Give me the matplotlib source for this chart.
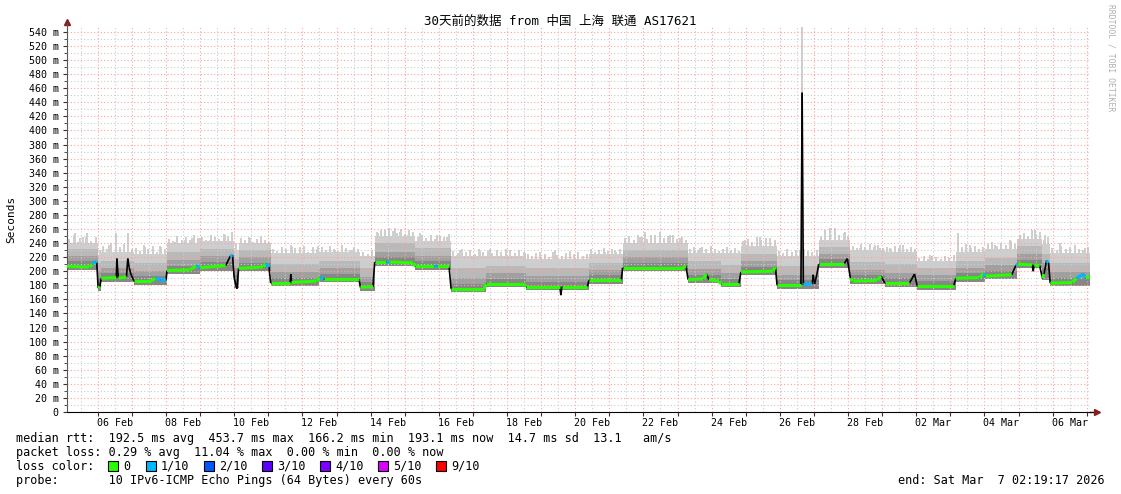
"""SmokePing style 30 day latency graph (median rtt + smoke) to out.png."""
import matplotlib
matplotlib.use("Agg")
import matplotlib.pyplot as plt
import matplotlib.dates as mdates
from matplotlib.collections import LineCollection
from matplotlib.patches import Rectangle
from matplotlib.ticker import MultipleLocator, FixedLocator, FuncFormatter
from datetime import datetime
import numpy as np

W, H = 1121, 494
MONO = ["DejaVu Sans Mono", "Noto Sans CJK SC"]
BASE = mdates.date2num(datetime(2026, 2, 5))
T_START, T_END = 0.0966, 30.0966      # days after 05 Feb 00:00
Y_TOP = 547

# median rtt: time (days after 05 Feb 00:00), value (ms), loss (x/10)
med_t = [0.097, 0.75, 0.85, 0.92, 0.97, 1.01, 1.06, 1.10, 1.54, 1.56, 1.60, 1.84, 1.88, 1.92,
         1.97, 2.06, 2.55, 2.70, 2.85, 3.00, 3.03, 3.70, 3.90, 4.00, 4.75, 4.88, 4.95, 5.00,
         5.08, 5.13, 5.85, 5.93, 6.02, 6.07, 6.64, 6.66, 6.68, 7.42, 7.52, 7.62, 8.66, 8.70,
         9.07, 9.12, 9.45, 9.55, 10.25, 10.31, 10.85, 10.95, 11.30, 11.36, 12.33, 12.37,
         13.50, 13.55, 14.55, 14.58, 14.61, 15.36, 15.40, 16.35, 16.39, 18.15, 18.25, 18.31,
         18.75, 18.85, 18.92, 19.22, 19.27, 19.80, 19.86, 20.80, 20.87, 20.92, 21.62, 21.655,
         21.69, 21.95, 21.98, 22.02, 22.09, 22.14, 22.88, 22.98, 23.07, 23.15, 23.85, 23.97,
         24.08, 24.80, 24.95, 25.03, 26.10, 26.16, 26.85, 26.98, 27.03, 27.80, 27.92, 27.97,
         28.40, 28.43, 28.46, 28.62, 28.70, 28.75, 28.82, 28.88, 28.93, 29.58, 29.70, 29.90,
         29.97, 30.097]
med_v = [207, 206, 210, 214, 212, 176, 178, 190, 191, 218, 190, 192, 218, 205,
         196, 186, 186, 190, 188, 187, 201, 202, 208, 205, 208, 221, 223, 190,
         175, 204, 206, 211, 206, 183, 183, 196, 184, 186, 191, 189, 189, 177,
         178, 213, 213, 213, 212, 207, 207, 207, 207, 175, 175, 182,
         182, 178, 178, 166, 178, 178, 187, 187, 205, 205, 207, 188,
         189, 196, 188, 186, 182, 182, 199, 200, 206, 180, 180, 453.7,
         181, 182, 195, 182, 196, 210, 210, 218, 190, 186, 187, 193,
         183, 183, 196, 179, 179, 190, 191, 197, 193, 195, 208, 210,
         209, 200, 209, 208, 190, 196, 215, 212, 183, 184, 190, 196,
         190, 193]
med_loss = [0, 0, 1, 1, 1, 0, 0, 0, 0, 0, 0, 0, 0, 1,
            0, 0, 0, 1, 1, 0, 0, 0, 1, 0, 0, 1, 1, 0,
            0, 0, 0, 1, 0, 0, 0, 0, 0, 0, 1, 0, 0, 0,
            0, 0, 1, 0, 0, 0, 1, 0, 0, 0, 0, 0,
            0, 0, 0, 0, 0, 0, 0, 0, 0, 0, 1, 0,
            0, 1, 0, 0, 0, 0, 0, 0, 1, 0, 1, 0,
            1, 0, 0, 0, 0, 0, 0, 1, 0, 0, 0, 1,
            0, 0, 1, 0, 0, 0, 0, 1, 0, 0, 1, 0,
            0, 0, 0, 0, 0, 0, 1, 0, 0, 0, 1, 1,
            0, 0]

# smoke bands, one row per step segment (ms)
seg_t = [0.097, 1.01, 1.10, 2.06, 3.03, 4.00, 5.00, 5.13, 6.07, 7.50, 8.70, 9.12, 10.31,
         11.36, 12.37, 13.55, 15.40, 16.39, 18.31, 19.27, 19.86, 20.92, 22.14, 23.07,
         24.08, 25.03, 26.16, 27.03, 27.97, 28.70, 28.93]
seg_lo = [202, 172, 185, 181, 196, 201, 176, 200, 179, 184, 172, 208, 202,
          170, 177, 173, 182, 200, 183, 177, 194, 175, 205, 182,
          178, 174, 185, 189, 204, 188, 179]
seg_q1 = [214, 190, 197, 193, 208, 213, 195, 212, 191, 196, 184, 220, 214,
          182, 189, 185, 194, 212, 195, 189, 206, 187, 217, 194,
          190, 186, 197, 201, 216, 204, 191]
seg_q2 = [222, 200, 205, 201, 216, 221, 205, 220, 199, 204, 192, 228, 222,
          191, 197, 193, 202, 220, 203, 197, 214, 195, 225, 202,
          198, 194, 205, 209, 224, 212, 199]
seg_q3 = [231, 212, 215, 212, 228, 232, 218, 230, 210, 214, 204, 240, 233,
          204, 208, 204, 212, 230, 214, 209, 225, 207, 235, 213,
          210, 204, 215, 219, 236, 224, 211]
seg_hi = [240, 222, 228, 225, 240, 243, 230, 240, 226, 228, 222, 250, 243,
          222, 222, 218, 225, 240, 226, 226, 236, 222, 244, 230,
          228, 214, 228, 232, 246, 238, 226]

# ragged top of the smoke: peak values spread evenly across each segment (ms)
seg_peaks = [
    [246, 252, 241, 249, 254, 243, 248],
    [230],
    [236, 232, 240, 250, 234, 238, 252, 231],
    [233, 229, 237, 231, 236, 228, 235, 232],
    [246, 243, 250, 244, 248, 245, 251, 247],
    [249, 245, 252, 248, 246, 253, 250, 256],
    [240],
    [247, 244, 249, 242, 246, 250, 245, 241],
    [232, 229, 235, 231, 237, 233, 230, 236, 228, 234, 231],
    [234, 230, 236, 232, 229, 237, 233, 230, 235, 231],
    [228, 225, 230],
    [256, 259, 254, 261, 257, 255, 260, 253, 258, 256],
    [249, 252, 247, 251, 246, 250, 248, 253],
    [229, 226, 231, 227, 230, 225, 232, 228],
    [229, 226, 230, 227, 231, 228, 226, 230, 227],
    [224, 221, 226, 222, 225, 220, 227, 223, 221, 226, 222, 224, 227, 221, 225],
    [231, 228, 230, 233, 229, 232, 228, 231],
    [247, 250, 245, 252, 248, 246, 251, 249, 256, 247, 250, 252, 246, 249, 245],
    [232, 235, 230, 234, 231, 236, 232, 229],
    [231, 234, 230, 233, 229],
    [243, 246, 241, 248, 244, 247, 242, 245],
    [229, 226, 231, 228, 230, 225, 232, 229, 227, 230],
    [250, 258, 253, 261, 252, 255, 250],
    [236, 233, 238, 235, 239, 234, 237, 233],
    [234, 231, 236, 233, 237, 232, 235, 231],
    [219, 221, 218, 222, 220, 217, 221, 219, 223],
    [254, 234, 238, 233, 236, 232, 235],
    [238, 241, 236, 240, 237, 243, 239],
    [252, 255, 250, 259, 253, 256],
    [244, 248],
    [233, 230, 236, 231, 234, 237, 232, 230, 235],
]

# single tall smoke spikes above the band
spike_t = [0.33, 0.48, 0.65, 1.33, 1.53, 1.886, 2.38, 2.82, 3.26, 3.56, 3.76, 4.00, 4.29,
           4.73, 4.94, 5.46, 5.80, 6.69, 6.93, 7.46, 7.96, 8.25, 8.46, 9.22, 9.42, 9.72,
           9.86, 10.10, 10.45, 10.95, 11.24, 11.62, 12.21, 12.50, 13.09, 13.53, 13.97,
           14.41, 14.85, 15.43, 15.87, 16.17, 16.46, 16.90, 17.05, 17.34, 17.78, 18.07,
           18.51, 18.66, 19.98, 20.42, 20.72, 21.60, 21.655, 22.32, 22.47, 22.91, 23.35,
           23.79, 23.94, 24.23, 24.52, 24.97, 25.41, 26.23, 26.58, 27.31, 27.75, 28.05,
           28.48, 28.78, 29.22, 29.66, 29.95]
spike_v = [254, 247, 249, 237, 254, 254, 234, 236, 241, 244, 247, 247, 244,
           251, 256, 247, 244, 234, 234, 236, 230, 227, 230, 254, 259, 261,
           256, 251, 254, 251, 248, 230, 229, 231, 230, 226, 227,
           230, 229, 223, 227, 230, 244, 248, 256, 251, 251, 247,
           230, 233, 244, 248, 247, 230, 547, 248, 261, 256, 233,
           237, 233, 233, 237, 232, 223, 254, 237, 237, 244, 248,
           259, 251, 240, 237, 233]

LOSS_COLORS = ["#26ff00", "#00b8ff", "#0059ff", "#5e00ff", "#7e00ff", "#dd00ff", "#ff0000"]
LOSS_LABELS = ["0", "1/10", "2/10", "3/10", "4/10", "5/10", "9/10"]
LIGHT = "#cecece"


def fx(px):
    return px / W


def fy(py):
    return 1 - py / H


fig = plt.figure(figsize=(W / 100, H / 100), dpi=100, facecolor="white")
ax = fig.add_axes([fx(67), fy(412), fx(1090) - fx(67), fy(27) - fy(412)])
ax.set_facecolor("white")

seg_end = seg_t[1:] + [T_END]
edges = BASE + np.array(seg_t + [T_END])
bands = [(seg_q3, seg_hi, LIGHT), (seg_q2, seg_q3, "#b9b9b9"),
         (seg_q1, seg_q2, "#a0a0a0"), (seg_lo, seg_q1, "#878787")]
for lo, hi, col in bands:
    ax.stairs(hi, edges, baseline=lo, fill=True, color=col, lw=0, zorder=1)

# ragged top
pk_t, pk_lo, pk_hi = [], [], []
for t0, t1, base_hi, peaks in zip(seg_t, seg_end, seg_hi, seg_peaks):
    n = len(peaks)
    pk_t.extend(t0 + (np.arange(n) + 0.5) * (t1 - t0) / n)
    pk_lo.extend([base_hi - 3] * n)
    pk_hi.extend(peaks)
ax.vlines(BASE + np.array(pk_t), pk_lo, pk_hi, color=LIGHT, lw=1.4, zorder=1.1)

# tall spikes rise from the top of the band
st = np.array(spike_t)
idx = np.clip(np.searchsorted(seg_t, st, side="right") - 1, 0, len(seg_t) - 1)
ax.vlines(BASE + st, np.array(seg_hi)[idx] - 3, spike_v, color=LIGHT, lw=1.4, zorder=1.2)

# median: black everywhere, loss colour on the flat parts
mt = BASE + np.array(med_t)
mv = np.array(med_v, dtype=float)
pts = np.column_stack([mt, mv])
segs = np.stack([pts[:-1], pts[1:]], axis=1)
ax.add_collection(LineCollection(segs, colors="black", lw=1.2, zorder=3))
flat = np.abs(np.diff(mv)) < 8
cols = np.array([LOSS_COLORS[l] for l in med_loss[:-1]])
ax.add_collection(LineCollection(segs[flat], colors=cols[flat], lw=2.2,
                                 zorder=3.1, capstyle="butt"))

ax.set_xlim(BASE + T_START, BASE + T_END)
ax.set_ylim(0, Y_TOP)

ax.yaxis.set_major_locator(MultipleLocator(20))
ax.yaxis.set_minor_locator(MultipleLocator(10))
ax.yaxis.set_major_formatter(FuncFormatter(lambda v, _: "0" if v == 0 else f"{int(v)} m"))
ax.xaxis.set_major_locator(FixedLocator(BASE + np.arange(1, 31)))
ax.xaxis.set_minor_locator(FixedLocator(BASE + np.arange(0.5, 30.6, 1.0)))
ax.xaxis.set_major_formatter(FuncFormatter(lambda v, _: ""))


def day_label(v, _):
    if int(round(v - BASE - 0.5)) % 2 == 1:
        return mdates.num2date(v).strftime("%d %b")
    return ""


ax.xaxis.set_minor_formatter(FuncFormatter(day_label))

ax.set_axisbelow(False)
ax.grid(which="major", color="#ffa0a0", ls=(0, (1, 2)), lw=0.8, zorder=2)
ax.grid(which="minor", color="#cccccc", ls=(0, (1, 2)), lw=0.8, zorder=2)

ax.tick_params(axis="both", which="both", labelsize=7.2, colors="#333333", labelcolor="black")
ax.tick_params(axis="x", which="major", length=3, direction="out")
ax.tick_params(axis="x", which="minor", length=0, pad=4)
ax.tick_params(axis="y", which="major", length=3, pad=3)
ax.tick_params(axis="y", which="minor", length=2)
for lab in ax.get_xticklabels(minor=True) + ax.get_yticklabels():
    lab.set_family(MONO)

for s in ("top", "right"):
    ax.spines[s].set_visible(False)
ax.spines["left"].set_color("#555555")
ax.spines["bottom"].set_color("black")
ax.spines["left"].set_bounds(0, Y_TOP + 6)

# axis arrows
ax.plot([1.0, 1.0065], [0, 0], color="black", lw=1, transform=ax.transAxes, clip_on=False)
ax.plot([1.0065], [0], marker=">", color="#8b1c1c", ms=4, transform=ax.transAxes, clip_on=False)
ax.plot([0], [1.013], marker="^", color="#8b1c1c", ms=4, transform=ax.transAxes, clip_on=False)

fig.text(fx(560), fy(21), "30天前的数据 from 中国 上海 联通 AS17621",
         family=MONO, fontsize=9, ha="center", va="center")
fig.text(fx(11), fy(219), "Seconds", family=MONO, fontsize=8,
         rotation=90, ha="center", va="center")
fig.text(fx(1111), fy(4), "RRDTOOL / TOBI OETIKER", family=MONO, fontsize=5.8,
         color="#b0b0b0", rotation=270, ha="center", va="top")

LEG = 8.5
fig.text(fx(16), fy(438),
         "median rtt:  192.5 ms avg  453.7 ms max  166.2 ms min  193.1 ms now  14.7 ms sd  13.1   am/s",
         family=MONO, fontsize=LEG, va="center")
fig.text(fx(16), fy(452), "packet loss: 0.29 % avg  11.04 % max  0.00 % min  0.00 % now",
         family=MONO, fontsize=LEG, va="center")
fig.text(fx(16), fy(466), "loss color:", family=MONO, fontsize=LEG, va="center")
box_x = [108, 146, 204, 262, 320, 378, 436]
for bx, col, lab in zip(box_x, LOSS_COLORS, LOSS_LABELS):
    fig.patches.append(Rectangle((fx(bx), fy(471)), 10 / W, 10 / H, facecolor=col,
                                 edgecolor="black", lw=0.8, transform=fig.transFigure))
    fig.text(fx(bx + 15), fy(466), lab, family=MONO, fontsize=LEG, va="center")
fig.text(fx(16), fy(480), "probe:       10 IPv6-ICMP Echo Pings (64 Bytes) every 60s",
         family=MONO, fontsize=LEG, va="center")
fig.text(fx(1105), fy(480), "end: Sat Mar  7 02:19:17 2026", family=MONO, fontsize=LEG,
         ha="right", va="center")

fig.savefig("out.png", dpi=100, facecolor="white")
plt.close(fig)
